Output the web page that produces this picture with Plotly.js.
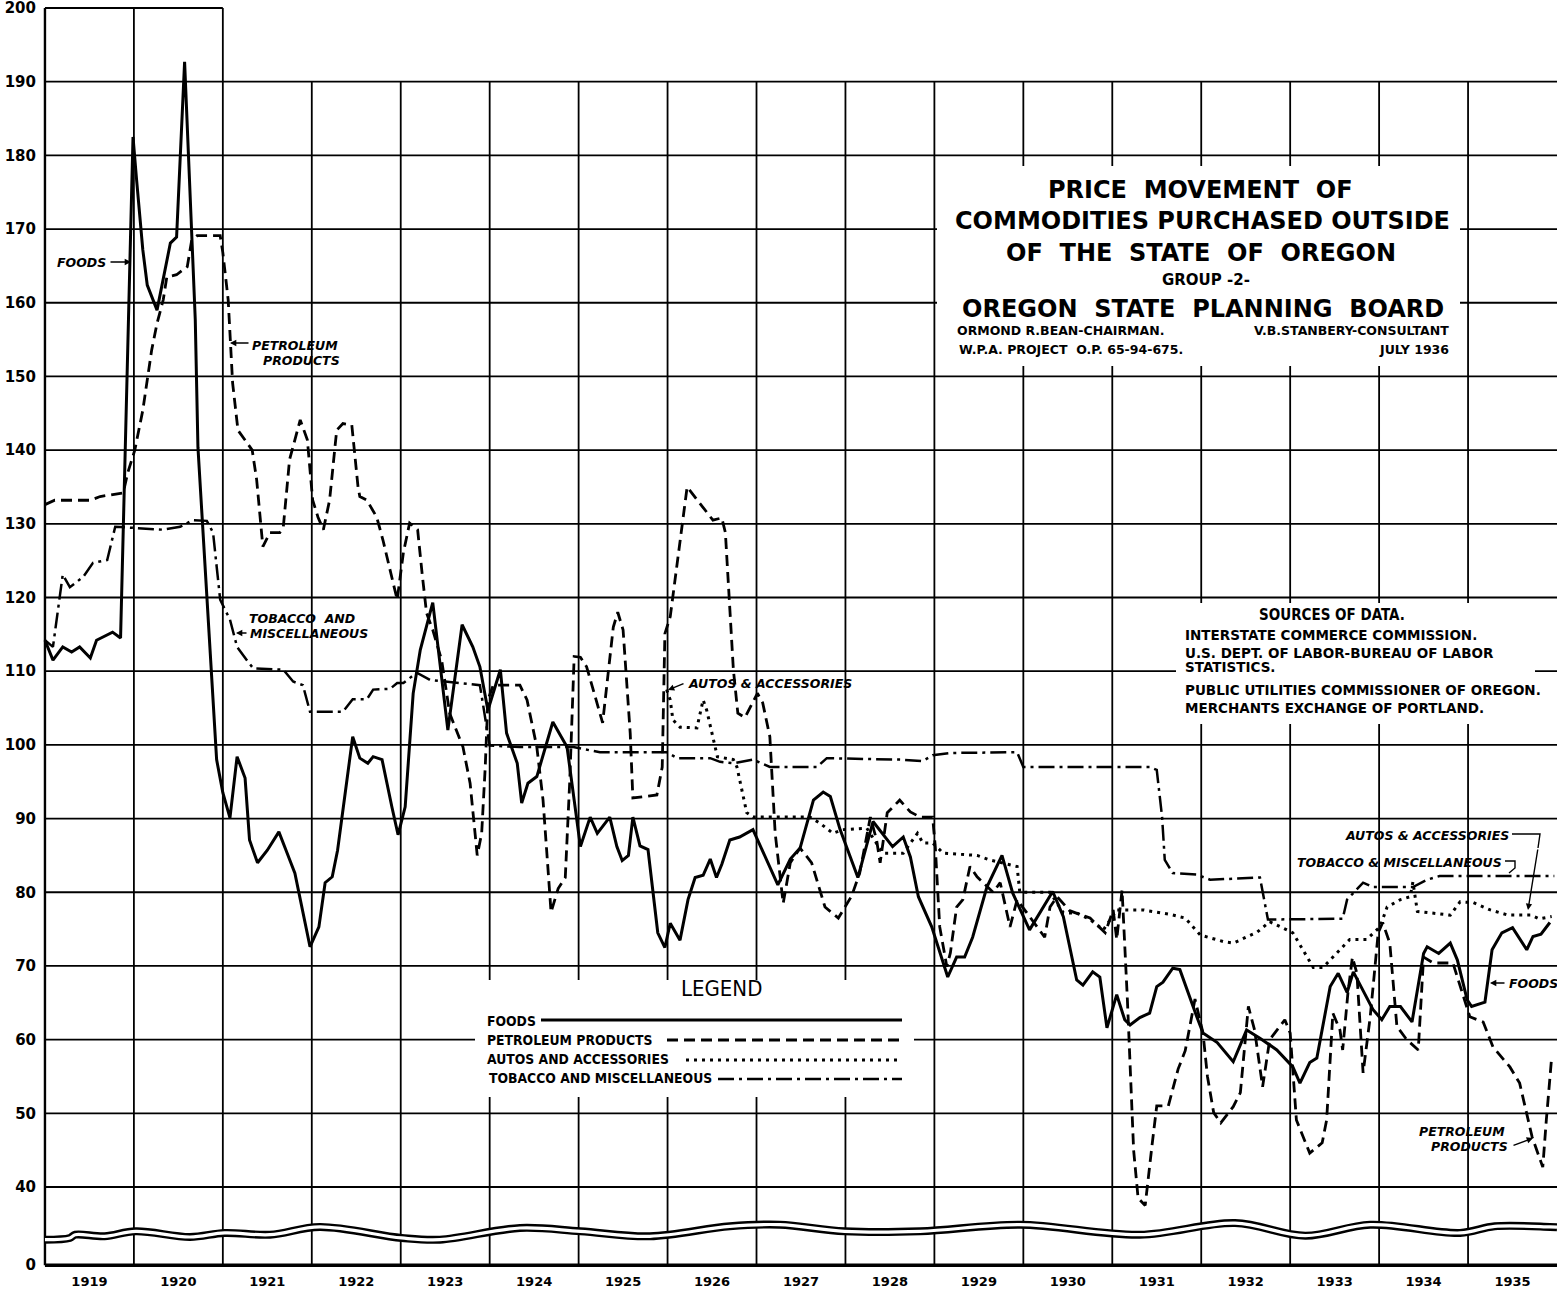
<!DOCTYPE html>
<html><head><meta charset="utf-8">
<script src="https://cdn.plot.ly/plotly-3.0.1.min.js"></script>
<style>html,body{margin:0;padding:0;background:#fff;}#chart{width:1557px;height:1292px;}</style>
</head><body><div id="chart"></div>
<script>
// ---------------- DATA ----------------
const yearLabels = ['1919','1920','1921','1922','1923','1924','1925','1926','1927','1928','1929','1930','1931','1932','1933','1934','1935'];
const yTickText = ['0','40','50','60','70','80','90','100','110','120','130','140','150','160','170','180','190','200'];
const ZERO = 29.4; // broken axis: the "0" line sits just below 40
const yTickVals = [ZERO,40,50,60,70,80,90,100,110,120,130,140,150,160,170,180,190,200];

const foodsX = [1919.00,1919.09,1919.20,1919.30,1919.39,1919.51,1919.58,1919.76,1919.85,1919.99,1920.03,1920.10,1920.15,1920.26,1920.41,1920.48,1920.57,1920.63,1920.69,1920.72,1920.93,1921.00,1921.08,1921.16,1921.25,1921.30,1921.39,1921.50,1921.63,1921.72,1921.81,1921.98,1922.08,1922.15,1922.23,1922.29,1922.37,1922.46,1922.54,1922.63,1922.69,1922.79,1922.90,1922.97,1923.05,1923.14,1923.22,1923.36,1923.53,1923.69,1923.81,1923.89,1923.98,1924.12,1924.19,1924.31,1924.36,1924.43,1924.53,1924.71,1924.87,1924.94,1925.02,1925.13,1925.21,1925.35,1925.43,1925.49,1925.56,1925.61,1925.69,1925.78,1925.89,1925.97,1926.03,1926.14,1926.23,1926.31,1926.40,1926.48,1926.55,1926.61,1926.70,1926.81,1926.96,1927.24,1927.38,1927.49,1927.64,1927.75,1927.83,1927.94,1928.14,1928.31,1928.53,1928.65,1928.73,1928.82,1928.97,1929.15,1929.25,1929.34,1929.43,1929.59,1929.76,1929.88,1930.07,1930.33,1930.45,1930.60,1930.67,1930.78,1930.86,1930.94,1931.05,1931.14,1931.20,1931.31,1931.42,1931.50,1931.57,1931.68,1931.76,1931.95,1932.02,1932.18,1932.36,1932.51,1932.66,1932.85,1933.03,1933.11,1933.22,1933.30,1933.45,1933.54,1933.64,1933.71,1933.93,1934.03,1934.12,1934.24,1934.37,1934.50,1934.54,1934.67,1934.80,1934.88,1934.99,1935.04,1935.19,1935.27,1935.38,1935.50,1935.66,1935.73,1935.82,1935.92];
const foodsY = [114.2,111.5,113.3,112.6,113.3,111.8,114.2,115.3,114.5,182.5,176.7,167.2,162.4,159.0,168.1,168.9,192.7,175.7,157.7,140.4,98.0,93.5,90.1,98.4,95.5,87.1,84.0,85.7,88.2,85.4,82.6,72.6,75.3,81.3,82.1,85.7,93.0,101.1,98.2,97.5,98.4,98.0,91.6,87.8,91.6,107.0,112.9,119.3,102.0,116.3,113.3,110.6,104.7,110.2,101.6,97.5,92.1,94.8,95.7,103.1,99.7,93.5,86.2,90.2,88.0,90.2,86.2,84.3,85.0,90.2,86.3,85.8,74.5,72.5,75.8,73.5,79.0,82.0,82.3,84.5,82.0,83.8,87.1,87.5,88.5,81.0,84.5,86.0,92.5,93.6,93.0,88.5,82.0,89.6,86.2,87.5,84.8,79.4,75.3,68.5,71.2,71.2,73.9,80.7,85.0,79.9,74.9,80.1,76.7,68.1,67.4,69.2,68.5,61.6,66.1,62.7,62.0,63.0,63.6,67.2,67.8,69.7,69.5,63.1,60.9,59.6,57.0,61.3,60.2,58.6,56.3,54.1,56.9,57.5,67.2,69.0,66.4,69.2,64.1,62.7,64.5,64.5,62.4,71.7,72.6,71.7,73.1,70.8,65.4,64.5,65.1,72.2,74.5,75.2,72.2,74.0,74.3,75.9];

const petroleumX = [1919.00,1919.11,1919.51,1919.62,1919.88,1919.93,1920.01,1920.10,1920.20,1920.26,1920.33,1920.37,1920.48,1920.60,1920.65,1920.71,1920.97,1921.00,1921.06,1921.08,1921.11,1921.17,1921.27,1921.33,1921.38,1921.45,1921.53,1921.64,1921.68,1921.75,1921.87,1921.95,1922.01,1922.07,1922.13,1922.20,1922.28,1922.35,1922.45,1922.52,1922.54,1922.62,1922.73,1922.80,1922.96,1923.03,1923.10,1923.19,1923.24,1923.29,1923.36,1923.46,1923.55,1923.70,1923.78,1923.86,1923.91,1923.95,1923.98,1924.04,1924.34,1924.42,1924.53,1924.60,1924.64,1924.69,1924.77,1924.85,1924.90,1924.95,1925.02,1925.09,1925.27,1925.39,1925.44,1925.50,1925.58,1925.61,1925.88,1925.94,1925.97,1926.03,1926.22,1926.51,1926.61,1926.65,1926.74,1926.79,1926.87,1927.01,1927.07,1927.15,1927.21,1927.30,1927.38,1927.49,1927.62,1927.77,1927.92,1928.07,1928.16,1928.28,1928.35,1928.39,1928.47,1928.61,1928.73,1928.84,1928.98,1929.01,1929.06,1929.14,1929.18,1929.25,1929.32,1929.40,1929.48,1929.55,1929.66,1929.74,1929.85,1929.93,1930.07,1930.24,1930.30,1930.38,1930.52,1930.75,1930.92,1931.01,1931.05,1931.11,1931.17,1931.24,1931.29,1931.37,1931.45,1931.50,1931.63,1931.74,1931.82,1931.93,1932.02,1932.07,1932.14,1932.22,1932.36,1932.44,1932.53,1932.60,1932.69,1932.77,1932.94,1933.00,1933.07,1933.22,1933.36,1933.41,1933.48,1933.56,1933.59,1933.65,1933.70,1933.75,1933.82,1933.90,1933.99,1934.04,1934.12,1934.20,1934.31,1934.44,1934.50,1934.61,1934.83,1934.91,1935.02,1935.17,1935.28,1935.47,1935.58,1935.72,1935.84,1935.88,1935.94];
const petroleumY = [132.6,133.2,133.2,133.7,134.2,136.9,140.0,145.4,153.6,157.2,160.4,163.5,163.8,164.9,168.5,169.1,169.1,166.8,160.4,155.9,149.1,142.7,140.9,140.0,136.0,126.9,128.8,128.8,129.6,138.7,144.1,141.4,133.2,130.9,129.2,133.2,142.7,143.6,143.4,135.0,133.7,133.2,130.9,127.8,119.7,126.1,130.1,129.2,123.3,117.9,115.6,111.5,104.3,99.7,94.8,85.0,88.0,97.0,106.1,108.1,108.1,106.1,99.7,92.5,85.8,77.3,80.5,82.0,95.0,112.0,111.9,110.6,103.0,116.0,118.0,115.6,101.6,92.8,93.2,97.0,115.1,117.4,135.0,130.5,130.8,128.8,110.2,104.3,103.7,107.0,105.7,101.1,88.0,78.5,84.0,86.0,84.0,78.0,76.5,79.5,82.6,90.2,87.1,84.0,90.8,92.5,90.9,90.2,90.2,86.2,75.3,69.9,71.8,78.0,79.0,83.5,82.1,81.3,80.0,81.3,75.3,79.0,76.7,73.9,78.0,79.4,77.5,76.5,74.5,77.6,73.6,80.3,65.4,45.0,38.5,37.5,46.0,51.0,51.0,56.0,58.5,65.5,60.9,55.0,50.1,48.7,50.9,52.8,64.5,61.3,53.6,60.0,62.7,60.9,49.1,44.6,46.0,49.1,63.6,61.3,58.6,66.4,71.2,69.0,55.5,63.1,74.5,75.9,73.1,61.8,60.0,58.6,71.2,70.4,70.4,67.2,63.1,62.4,59.0,56.3,54.1,46.8,42.7,49.1,57.6];

const autosX = [1925.99,1926.03,1926.06,1926.14,1926.33,1926.40,1926.44,1926.56,1926.74,1926.78,1926.89,1926.96,1927.60,1927.71,1927.86,1927.97,1928.24,1928.42,1928.65,1928.81,1928.87,1928.98,1929.10,1929.48,1929.62,1929.93,1929.96,1930.30,1930.45,1930.60,1930.75,1930.90,1931.05,1931.35,1931.65,1931.82,1931.93,1931.99,1932.25,1932.36,1932.63,1932.77,1933.03,1933.26,1933.37,1933.53,1933.67,1933.86,1934.01,1934.09,1934.24,1934.35,1934.38,1934.43,1934.80,1934.91,1935.06,1935.25,1935.45,1935.71,1935.80,1935.94];
const autosY = [107.5,106.1,103.4,102.4,102.3,106.1,104.7,98.4,98.0,97.0,90.8,90.2,90.2,89.4,88.0,88.5,88.7,85.3,85.3,88.0,86.7,86.7,85.3,85.0,84.4,83.5,80.0,80.0,77.2,77.2,76.3,74.9,77.6,77.6,77.0,76.5,75.0,74.2,73.3,73.1,74.6,76.0,74.5,69.8,69.8,71.8,73.6,73.6,75.3,78.0,79.0,79.4,81.4,77.4,76.9,78.7,78.6,77.6,76.9,76.9,76.4,76.7];

const tobaccoX = [1919.00,1919.09,1919.20,1919.28,1919.43,1919.54,1919.70,1919.79,1920.33,1920.52,1920.66,1920.82,1920.89,1920.97,1921.08,1921.16,1921.27,1921.34,1921.68,1921.79,1921.90,1921.98,1922.35,1922.46,1922.62,1922.69,1922.88,1922.96,1923.03,1923.18,1923.33,1923.55,1923.89,1924.00,1924.34,1924.94,1925.24,1925.99,1926.11,1926.48,1926.59,1926.74,1926.96,1927.15,1927.68,1927.79,1928.61,1928.87,1928.98,1929.18,1929.93,1930.00,1931.42,1931.50,1931.56,1931.59,1931.68,1931.95,1932.10,1932.66,1932.75,1933.59,1933.64,1933.82,1933.93,1934.38,1934.54,1934.68,1935.97];
const tobaccoY = [114.2,113.3,123.1,121.4,122.8,124.7,125.1,129.6,129.2,129.6,130.5,130.4,128.8,119.7,117.0,113.3,111.5,110.4,110.2,108.6,108.1,104.5,104.5,106.2,106.2,107.5,107.6,108.4,108.4,109.8,108.8,108.5,108.1,99.9,99.7,99.7,99.0,99.0,98.2,98.2,97.7,97.5,98.0,97.0,97.0,98.2,98.0,97.8,98.6,98.9,99.0,97.0,97.0,96.6,90.2,84.4,82.6,82.4,81.7,82.0,76.3,76.4,79.0,81.3,80.7,80.7,81.7,82.2,82.2];

// axis-break wave drawn across the lower part of the scale
const waveX = [1919.00,1919.28,1919.34,1919.67,1920.02,1920.63,1921.02,1921.53,1922.09,1923.01,1923.44,1924.34,1925.02,1925.80,1926.70,1927.26,1927.99,1928.84,1929.96,1931.31,1932.38,1933.17,1933.90,1934.91,1935.30,1935.92,1936.00];
const waveY = [32.85,33.09,33.53,33.31,33.99,33.22,33.77,33.53,34.58,33.09,32.85,34.44,33.99,33.31,34.67,34.89,33.99,33.99,34.89,33.53,35.11,33.40,34.89,33.77,34.67,34.58,34.55];

// ---------------- LAYOUT ----------------
const W = 1557, H = 1292;
const ML = 43, MT = 4, MB = 22, MR = 0;
const XR = [1918.978, 1936];
const YR = [28.74, 200.54];
const pxPerX = (W - ML - MR) / (XR[1] - XR[0]);
const pxPerY = (H - MT - MB) / (YR[1] - YR[0]);
const dx = p => XR[0] + (p - ML) / pxPerX;
const dy = p => YR[1] - (p - MT) / pxPerY;

const BLACK = '#000';
const styles = {
  foods: {color: BLACK, width: 3},
  petro: {color: BLACK, width: 2.8, dash: '11px,6px'},
  autos: {color: BLACK, width: 3, dash: '3px,5px'},
  tobac: {color: BLACK, width: 2.5, dash: '16px,5px,3px,5px'}
};

const shapes = [];
const gl = {color: BLACK, width: 1.8};
const firstYear = 1919, lastYear = 1936;
for (let v = 40; v <= 190; v += 10) {
  shapes.push({type:'line', xref:'x', yref:'y', x0:firstYear, x1:lastYear, y0:v, y1:v, line:gl, layer:'below'});
}
shapes.push({type:'line', xref:'x', yref:'y', x0:firstYear, x1:1921, y0:200, y1:200, line:{color:BLACK,width:2.2}, layer:'below'});
for (let yr = 1920; yr <= 1935; yr++) {
  shapes.push({type:'line', xref:'x', yref:'y', x0:yr, x1:yr, y0:ZERO, y1:(yr <= 1921 ? 200 : 190), line:gl, layer:'below'});
}
shapes.push({type:'line', xref:'x', yref:'y', x0:firstYear, x1:firstYear, y0:ZERO, y1:200, line:{color:BLACK,width:2.4}, layer:'below'});
shapes.push({type:'line', xref:'x', yref:'y', x0:firstYear, x1:lastYear, y0:ZERO, y1:ZERO, line:{color:BLACK,width:3.5}, layer:'below'});

// white panels (title, sources, legend)
function box(x0, y0, x1, y1) {
  return {type:'rect', xref:'x', yref:'y', x0:dx(x0), x1:dx(x1), y0:dy(y1), y1:dy(y0), fillcolor:'#fff', line:{width:0}, layer:'below'};
}
shapes.push(box(937, 166, 1460, 366));
shapes.push(box(1176, 603, 1535, 724));
shapes.push(box(475, 980, 914, 1097));

// legend samples
function sample(x0, x1, y, st) {
  return {type:'line', xref:'x', yref:'y', x0:dx(x0), x1:dx(x1), y0:dy(y), y1:dy(y), line:st, layer:'above'};
}
shapes.push(sample(541, 902, 1020, styles.foods));
shapes.push(sample(667, 902, 1040, styles.petro));
shapes.push(sample(686, 902, 1060, styles.autos));
shapes.push(sample(718, 902, 1079, styles.tobac));

// callout brackets
function pathPx(pts) {
  return {type:'path', xref:'x', yref:'y', path: pts.map((p,i)=>(i?'L':'M')+dx(p[0])+','+dy(p[1])).join(' '), line:{color:BLACK,width:1.4}, layer:'above'};
}
shapes.push(pathPx([[1512,834],[1540,834],[1538,848]]));
shapes.push(pathPx([[1505,861],[1515,861],[1515,868],[1509,873]]));

// annotations
const SANS = 'DejaVu Sans, Liberation Sans, sans-serif';
const COND = 'DejaVu Sans Condensed, DejaVu Sans, Liberation Sans, sans-serif';
function T(text, x, y, size, anchor, fam, weight, style) {
  return {text:text, x:dx(x), y:dy(y), xref:'x', yref:'y', showarrow:false,
    xanchor: anchor || 'center', yanchor:'middle',
    font:{family: fam || SANS, size:size, color:BLACK, weight: weight || 'bold', style: style || 'normal'}};
}
function C(text, x, y, anchor) { return T(text, x, y, 12.5, anchor, SANS, 'bold', 'italic'); }
function A(tipX, tipY, tailX, tailY) {
  return {text:'', x:dx(tipX), y:dy(tipY), xref:'x', yref:'y', showarrow:true,
    ax: tailX - tipX, ay: tailY - tipY, arrowhead:2, arrowsize:0.9, arrowwidth:1.4, arrowcolor:BLACK, standoff:0, startstandoff:0};
}
const nb = '\u00a0';
const annotations = [
  T('PRICE'+nb+' MOVEMENT'+nb+' OF', 1200, 190, 24),
  T('COMMODITIES PURCHASED OUTSIDE', 1202, 221, 24),
  T('OF'+nb+' THE'+nb+' STATE'+nb+' OF'+nb+' OREGON', 1201, 253, 24),
  T('GROUP -2-', 1206, 280, 15),
  T('OREGON'+nb+' STATE'+nb+' PLANNING'+nb+' BOARD', 1203, 309, 24),
  T('ORMOND R.BEAN-CHAIRMAN.', 955, 330, 12.5, 'left'),
  T('V.B.STANBERY-CONSULTANT', 1451, 330, 12.5, 'right'),
  T('W.P.A. PROJECT'+nb+' O.P. 65-94-675.', 957, 349, 12.5, 'left'),
  T('JULY 1936', 1451, 349, 12.5, 'right'),

  T('SOURCES OF DATA.', 1332, 615, 15, 'center', COND),
  T('INTERSTATE COMMERCE COMMISSION.', 1183, 635, 13.5, 'left'),
  T('U.S. DEPT. OF LABOR-BUREAU OF LABOR', 1183, 653, 13.5, 'left'),
  T('STATISTICS.', 1183, 667, 13.5, 'left'),
  T('PUBLIC UTILITIES COMMISSIONER OF OREGON.', 1183, 690, 13.5, 'left'),
  T('MERCHANTS EXCHANGE OF PORTLAND.', 1183, 708, 13.5, 'left'),

  T('LEGEND', 721, 988, 22, 'center', COND, 'normal'),
  T('FOODS', 485, 1021, 13.8, 'left', COND),
  T('PETROLEUM PRODUCTS', 485, 1040, 13.8, 'left', COND),
  T('AUTOS AND ACCESSORIES', 485, 1059, 13.8, 'left', COND),
  T('TOBACCO AND MISCELLANEOUS', 487, 1078, 13.8, 'left', COND),

  C('FOODS', 108, 262, 'right'), A(131, 262, 109, 262),
  C('PETROLEUM', 250, 345, 'left'), C('PRODUCTS', 261, 360, 'left'), A(230, 343, 250, 343),
  C('TOBACCO'+nb+' AND', 247, 618, 'left'), C('MISCELLANEOUS', 248, 633, 'left'), A(236, 633, 248, 633),
  C('AUTOS & ACCESSORIES', 686, 683, 'left'), A(668, 690, 685, 683),
  C('AUTOS & ACCESSORIES', 1511, 835, 'right'), A(1528, 910, 1538, 848),
  C('TOBACCO & MISCELLANEOUS', 1504, 862, 'right'),
  C('FOODS', 1507, 983, 'left'), A(1490, 983, 1506, 983),
  C('PETROLEUM', 1507, 1131, 'right'), C('PRODUCTS', 1510, 1146, 'right'), A(1533, 1138, 1512, 1146)
];

const traces = [
  {x:waveX, y:waveY, mode:'lines', line:{color:BLACK, width:8, shape:'spline'}, hoverinfo:'skip', showlegend:false},
  {x:waveX, y:waveY, mode:'lines', line:{color:'#fff', width:3.2, shape:'spline'}, hoverinfo:'skip', showlegend:false},
  {x:tobaccoX, y:tobaccoY, name:'TOBACCO AND MISCELLANEOUS', mode:'lines', line:styles.tobac},
  {x:autosX, y:autosY, name:'AUTOS AND ACCESSORIES', mode:'lines', line:styles.autos},
  {x:petroleumX, y:petroleumY, name:'PETROLEUM PRODUCTS', mode:'lines', line:styles.petro},
  {x:foodsX, y:foodsY, name:'FOODS', mode:'lines', line:styles.foods}
];

const layout = {
  width: W, height: H,
  margin: {l:ML, r:MR, t:MT, b:MB, pad:0},
  paper_bgcolor:'#fff', plot_bgcolor:'#fff',
  showlegend:false,
  xaxis: {range: XR, tickvals: yearLabels.map((y,i)=>firstYear + i + 0.5), ticktext: yearLabels,
    showgrid:false, zeroline:false, showline:false, ticks:'', ticklabelstandoff:2, ticklabeloverflow:'allow',
    tickfont:{family:SANS, size:13, color:BLACK, weight:'bold'}, fixedrange:true},
  yaxis: {range: YR, tickvals: yTickVals, ticktext: yTickText,
    showgrid:false, zeroline:false, showline:false, ticks:'', ticklabelstandoff:6, ticklabeloverflow:'allow',
    tickfont:{family:SANS, size:15, color:BLACK, weight:'bold'}, fixedrange:true},
  shapes: shapes,
  annotations: annotations
};

Plotly.newPlot('chart', traces, layout, {staticPlot:true, displayModeBar:false});
</script>
</body></html>
